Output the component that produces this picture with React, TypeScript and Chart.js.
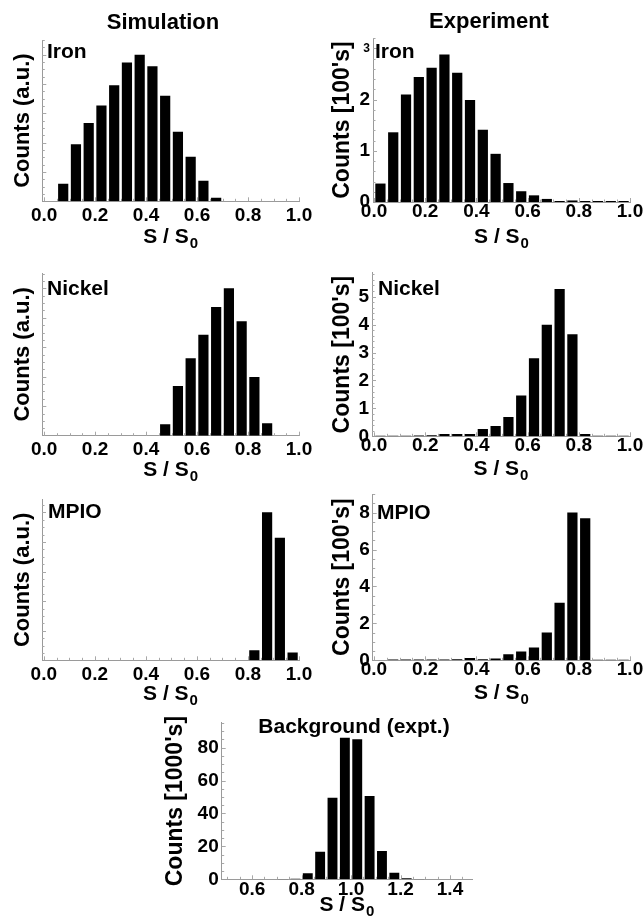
import React, { useEffect, useRef } from "react";
import { Chart, registerables } from "chart.js";

Chart.register(...registerables);

const FONT = '"Liberation Sans", Arial, Helvetica, sans-serif';

// ---------------- data ----------------
// histogram bin centres (bin width 0.05)
const binCenters = [
  0.025, 0.075, 0.125, 0.175, 0.225, 0.275, 0.325, 0.375, 0.425, 0.475,
  0.525, 0.575, 0.625, 0.675, 0.725, 0.775, 0.825, 0.875, 0.925, 0.975,
];
const bgBinCenters = [
  0.525, 0.575, 0.625, 0.675, 0.725, 0.775, 0.825, 0.875, 0.925, 0.975,
  1.025, 1.075, 1.125, 1.175, 1.225, 1.275, 1.325, 1.375, 1.425, 1.475,
];

// Simulation (arbitrary units, peak = 100)
const simIron = [0, 12.0, 38.9, 53.4, 65.4, 79.2, 94.6, 100, 92.1, 71.9, 47.5, 30.3, 14.0, 2.5, 0, 0, 0, 0, 0, 0];
const simNickel = [0, 0, 0, 0, 0, 0, 0, 0, 0, 7.7, 33.8, 52.6, 68.5, 87.3, 100, 77.6, 39.9, 8.4, 0, 0];
const simMPIO = [0, 0, 0, 0, 0, 0, 0, 0, 0, 0, 0, 0, 0, 0, 0, 0, 6.8, 100, 82.9, 5.2];

// Experiment (counts in 100's)
const expIron = [0.36, 1.36, 2.1, 2.44, 2.62, 2.88, 2.52, 1.99, 1.41, 0.94, 0.37, 0.21, 0.13, 0.06, 0.02, 0.03, 0.02, 0.02, 0.02, 0.02];
const expNickel = [0.02, 0.02, 0.02, 0.03, 0.04, 0.08, 0.08, 0.08, 0.26, 0.37, 0.69, 1.46, 2.79, 3.99, 5.27, 3.65, 0.08, 0.02, 0.02, 0.02];
const expMPIO = [0, 0.05, 0.04, 0.04, 0.04, 0.05, 0.06, 0.13, 0.06, 0.1, 0.33, 0.47, 0.69, 1.5, 3.12, 8.0, 7.69, 0.03, 0.03, 0.03];

// Background (counts in 1000's)
const background = [0.1, 0.1, 0.1, 0.1, 0.15, 0.4, 3.6, 16.8, 49.6, 86.0, 85.0, 50.6, 17.2, 4.0, 0.6, 0.15, 0.1, 0.1, 0.1, 0.1];

// tick labels
const xTicksUnit = [0, 0.2, 0.4, 0.6, 0.8, 1.0];
const xTicksBg = [0.6, 0.8, 1.0, 1.2, 1.4];
const yTicksExpIron = [0, 1, 2, 3];
const yTicksExpNickel = [0, 1, 2, 3, 4, 5];
const yTicksExpMPIO = [0, 2, 4, 6, 8];
const yTicksBg = [0, 20, 40, 60, 80];

// ---------------- layout ----------------
type Panel = {
  id: string;
  cLeft: number;
  cTop: number;
  cBottom: number;
  l: number;
  t: number;
  r: number;
  b: number;
  xMin: number;
  xMax: number;
  xTicks: number[];
  yMax: number;
  yTicks: number[] | null;
  yMajor: number;
  yMinor: number;
  centers: number[];
  values: number[];
  yTitle: string;
  yTitleSize: number;
  yTitlePad: number;
  xTickPad: number;
  xTitleDy: number;
  texts: { text: string; x: number; y: number; align: CanvasTextAlign; size: number }[];
};

const SIM_L = 0;
const EXP_L = 322;

const panels: Panel[] = [
  {
    id: "simIron", cLeft: SIM_L, cTop: 0, cBottom: 253,
    l: 42.3, t: 40, r: 299, b: 201.3,
    xMin: -0.007, xMax: 1.0, xTicks: xTicksUnit,
    yMax: 110, yTicks: null, yMajor: 20, yMinor: 5,
    centers: binCenters, values: simIron,
    yTitle: "Counts (a.u.)", yTitleSize: 22, yTitlePad: 9.8, xTickPad: 4.5, xTitleDy: 42,
    texts: [
      { text: "Simulation", x: 163, y: 29, align: "center", size: 22 },
      { text: "Iron", x: 47, y: 58, align: "left", size: 21 },
    ],
  },
  {
    id: "expIron", cLeft: EXP_L, cTop: 0, cBottom: 254,
    l: 373, t: 38, r: 629.5, b: 202,
    xMin: -0.004, xMax: 1.0, xTicks: xTicksUnit,
    yMax: 3.2, yTicks: yTicksExpIron, yMajor: 1, yMinor: 0.2,
    centers: binCenters, values: expIron,
    yTitle: "Counts [100's]", yTitleSize: 23, yTitlePad: 7.2, xTickPad: 0, xTitleDy: 41,
    texts: [
      { text: "Experiment", x: 489, y: 28, align: "center", size: 22 },
      { text: "Iron", x: 375, y: 58, align: "left", size: 21 },
    ],
  },
  {
    id: "simNickel", cLeft: SIM_L, cTop: 253, cBottom: 488,
    l: 42.3, t: 273, r: 299, b: 435.7,
    xMin: -0.007, xMax: 1.0, xTicks: xTicksUnit,
    yMax: 110.4, yTicks: null, yMajor: 20, yMinor: 5,
    centers: binCenters, values: simNickel,
    yTitle: "Counts (a.u.)", yTitleSize: 22, yTitlePad: 9.8, xTickPad: 4.5, xTitleDy: 40,
    texts: [{ text: "Nickel", x: 47, y: 295, align: "left", size: 21 }],
  },
  {
    id: "expNickel", cLeft: EXP_L, cTop: 253, cBottom: 489,
    l: 372, t: 272.9, r: 629.5, b: 436.3,
    xMin: -0.008, xMax: 1.0, xTicks: xTicksUnit,
    yMax: 5.85, yTicks: yTicksExpNickel, yMajor: 1, yMinor: 0.2,
    centers: binCenters, values: expNickel,
    yTitle: "Counts [100's]", yTitleSize: 23, yTitlePad: 7.2, xTickPad: 0, xTitleDy: 39,
    texts: [{ text: "Nickel", x: 378, y: 295, align: "left", size: 21 }],
  },
  {
    id: "simMPIO", cLeft: SIM_L, cTop: 479, cBottom: 712,
    l: 42, t: 499.3, r: 299, b: 660.3,
    xMin: -0.007, xMax: 1.0, xTicks: xTicksUnit,
    yMax: 108.8, yTicks: null, yMajor: 20, yMinor: 5,
    centers: binCenters, values: simMPIO,
    yTitle: "Counts (a.u.)", yTitleSize: 22, yTitlePad: 9.8, xTickPad: 4.5, xTitleDy: 40,
    texts: [{ text: "MPIO", x: 48, y: 518, align: "left", size: 21 }],
  },
  {
    id: "expMPIO", cLeft: EXP_L, cTop: 474, cBottom: 712,
    l: 372.7, t: 494.1, r: 629.5, b: 660.3,
    xMin: -0.005, xMax: 1.0, xTicks: xTicksUnit,
    yMax: 9.0, yTicks: yTicksExpMPIO, yMajor: 2, yMinor: 0.5,
    centers: binCenters, values: expMPIO,
    yTitle: "Counts [100's]", yTitleSize: 23, yTitlePad: 7.2, xTickPad: 0, xTitleDy: 39,
    texts: [{ text: "MPIO", x: 377, y: 519, align: "left", size: 21 }],
  },
  {
    id: "background", cLeft: 160, cTop: 700, cBottom: 920,
    l: 221.7, t: 722.9, r: 471.7, b: 879.3,
    xMin: 0.477, xMax: 1.489, xTicks: xTicksBg,
    yMax: 95, yTicks: yTicksBg, yMajor: 20, yMinor: 5,
    centers: bgBinCenters, values: background,
    yTitle: "Counts [1000's]", yTitleSize: 23, yTitlePad: 2.2, xTickPad: 0.5, xTitleDy: 32,
    texts: [{ text: "Background (expt.)", x: 354, y: 733, align: "center", size: 21 }],
  },
];

const PAD_R = 30;

function makeTextPlugin(p: Panel) {
  return {
    id: "panelText_" + p.id,
    afterDraw(chart: any) {
      const ctx = chart.ctx as CanvasRenderingContext2D;
      ctx.save();
      ctx.fillStyle = "#000";
      ctx.textBaseline = "alphabetic";
      for (const it of p.texts) {
        ctx.font = `bold ${it.size}px ${FONT}`;
        ctx.textAlign = it.align;
        ctx.fillText(it.text, it.x - p.cLeft, it.y - p.cTop);
      }
      // x-axis title "S / S0" with subscript
      const main = "S / S";
      const sub = "0";
      ctx.textAlign = "left";
      ctx.font = `bold 21px ${FONT}`;
      const w1 = ctx.measureText(main).width;
      ctx.font = `bold 15px ${FONT}`;
      const w2 = ctx.measureText(sub).width;
      const ca = chart.chartArea;
      const cx = (ca.left + ca.right) / 2;
      const x0 = cx - (w1 + 1 + w2) / 2;
      const y = ca.bottom + p.xTitleDy;
      ctx.font = `bold 21px ${FONT}`;
      ctx.fillText(main, x0, y);
      ctx.font = `bold 15px ${FONT}`;
      ctx.fillText(sub, x0 + w1 + 1, y + 5);
      ctx.restore();
    },
  };
}

function makeInnerTicksPlugin(p: Panel) {
  return {
    id: "innerTicks_" + p.id,
    beforeDatasetsDraw(chart: any) {
      const ctx = chart.ctx as CanvasRenderingContext2D;
      const xs = chart.scales.x;
      const ys = chart.scales.y;
      const ca = chart.chartArea;
      ctx.save();
      ctx.strokeStyle = "#a8a8a8";
      ctx.lineWidth = 1;
      ctx.beginPath();
      // x ticks every 0.05, longer on 0.2
      const k0 = Math.ceil(p.xMin / 0.05 - 1e-6);
      const k1 = Math.floor(p.xMax / 0.05 + 1e-6);
      for (let k = k0; k <= k1; k++) {
        const v = k * 0.05;
        const px = Math.round(xs.getPixelForValue(v)) + 0.5;
        const major = Math.abs(v / 0.2 - Math.round(v / 0.2)) < 1e-6;
        const len = major ? 4 : 2.5;
        ctx.moveTo(px, ca.bottom);
        ctx.lineTo(px, ca.bottom - len);
      }
      // y ticks
      const n = Math.floor(p.yMax / p.yMinor + 1e-6);
      for (let k = 1; k <= n; k++) {
        const v = k * p.yMinor;
        const py = Math.round(ys.getPixelForValue(v)) + 0.5;
        const major = Math.abs(v / p.yMajor - Math.round(v / p.yMajor)) < 1e-6;
        const len = major ? 4 : 2.5;
        ctx.moveTo(ca.left, py);
        ctx.lineTo(ca.left + len, py);
      }
      ctx.stroke();
      ctx.restore();
    },
  };
}

function PanelChart({ p }: { p: Panel }) {
  const ref = useRef<HTMLCanvasElement>(null);
  const width = Math.round(p.r + PAD_R - p.cLeft);
  const height = p.cBottom - p.cTop;

  useEffect(() => {
    const canvas = ref.current;
    if (!canvas) return;
    const yAxisWidth = p.l - p.cLeft;
    const xAxisHeight = p.cBottom - p.b;
    const tickFont = { family: FONT, size: 19, weight: "bold" as const, lineHeight: 1 };

    const chart = new Chart(canvas, {
      type: "bar",
      data: {
        datasets: [
          {
            data: p.centers.map((c, i) => ({ x: c, y: p.values[i] })),
            backgroundColor: "#000000",
            borderWidth: 0,
            barPercentage: 0.8,
            categoryPercentage: 1,
          },
        ],
      },
      options: {
        responsive: false,
        animation: false,
        devicePixelRatio: 1,
        events: [],
        layout: {
          padding: { left: 0, top: p.t - p.cTop, right: PAD_R, bottom: 0 },
        },
        plugins: {
          legend: { display: false },
          tooltip: { enabled: false },
          title: { display: false },
        },
        scales: {
          x: {
            type: "linear",
            offset: false,
            min: p.xMin,
            max: p.xMax,
            grid: { display: false, drawTicks: false },
            border: { display: true, color: "#9a9a9a", width: 1 },
            afterBuildTicks: (scale: any) => {
              scale.ticks = p.xTicks.map((v) => ({ value: v }));
            },
            afterFit: (scale: any) => {
              scale.height = xAxisHeight;
            },
            ticks: {
              color: "#000",
              font: tickFont,
              padding: p.xTickPad,
              maxRotation: 0,
              autoSkip: false,
              callback: (v: any) => Number(v).toFixed(1),
            },
          },
          y: {
            type: "linear",
            min: 0,
            max: p.yMax,
            grid: { display: false, drawTicks: false },
            border: { display: true, color: "#9a9a9a", width: 1 },
            afterBuildTicks: (scale: any) => {
              if (p.yTicks) scale.ticks = p.yTicks.map((v) => ({ value: v }));
            },
            afterFit: (scale: any) => {
              scale.width = yAxisWidth;
            },
            ticks: {
              display: !!p.yTicks,
              color: "#000",
              padding: 3,
              autoSkip: false,
              font: (ctx: any) =>
                p.id === "expIron" && ctx.tick && ctx.tick.value === 3
                  ? { family: FONT, size: 12, weight: "bold", lineHeight: 1 }
                  : tickFont,
              callback: (v: any) => String(v),
            },
            title: {
              display: true,
              text: p.yTitle,
              color: "#000",
              font: { family: FONT, size: p.yTitleSize, weight: "bold", lineHeight: 1.2 },
              padding: { top: p.yTitlePad, bottom: 0 },
            },
          },
        },
      },
      plugins: [makeInnerTicksPlugin(p), makeTextPlugin(p)],
    } as any);
    return () => chart.destroy();
  }, []);

  return (
    <canvas
      ref={ref}
      width={width}
      height={height}
      style={{
        position: "absolute",
        left: p.cLeft + "px",
        top: p.cTop + "px",
        width: width + "px",
        height: height + "px",
      }}
    />
  );
}

export default function App() {
  return (
    <div
      style={{
        position: "absolute",
        left: 0,
        top: 0,
        width: "644px",
        height: "920px",
        overflow: "hidden",
        background: "#ffffff",
      }}
    >
      {panels.map((p) => (
        <PanelChart key={p.id} p={p} />
      ))}
    </div>
  );
}
